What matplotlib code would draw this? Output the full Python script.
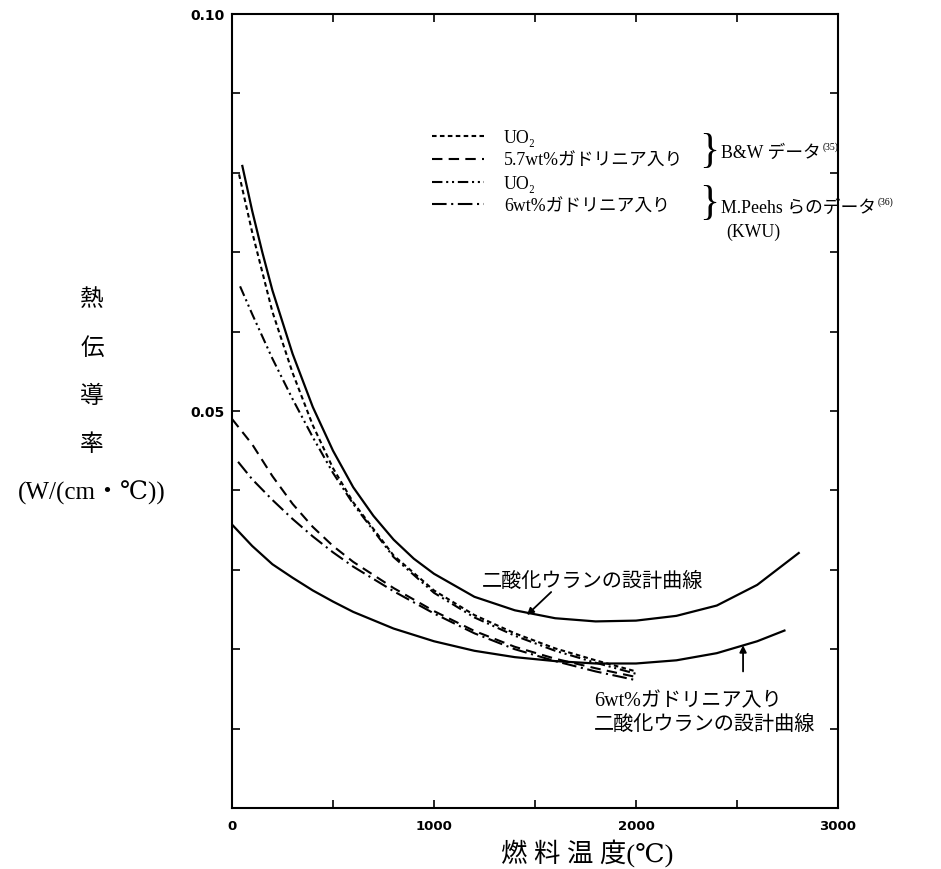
import matplotlib
matplotlib.use("Agg")
import matplotlib.pyplot as plt

# ---------------- data ----------------
temp_design_uo2 = [50, 100, 150, 200, 300, 400, 500, 600, 700, 800, 900, 1000,
                   1200, 1400, 1600, 1800, 2000, 2200, 2400, 2600, 2810]
k_design_uo2 = [0.0810, 0.0752, 0.0700, 0.0652, 0.0572, 0.0505, 0.0450, 0.0404,
                0.0368, 0.0338, 0.0314, 0.0295, 0.0266, 0.0249, 0.0239, 0.0235,
                0.0236, 0.0242, 0.0255, 0.0281, 0.0322]

temp_design_gd = [0, 100, 200, 300, 400, 500, 600, 800, 1000, 1200, 1400, 1600,
                  1800, 2000, 2200, 2400, 2600, 2740]
k_design_gd = [0.0357, 0.0330, 0.0307, 0.0290, 0.0274, 0.0260, 0.0247, 0.0226,
               0.0210, 0.0198, 0.0190, 0.0185, 0.0182, 0.0182, 0.0186, 0.0195,
               0.0210, 0.0224]

temp_bw_uo2 = [35, 100, 200, 300, 400, 500, 600, 800, 1000, 1200, 1400, 1600, 1800, 2000]
k_bw_uo2 = [0.0798, 0.0725, 0.0625, 0.0548, 0.0482, 0.0428, 0.0385, 0.0318,
            0.0274, 0.0243, 0.0220, 0.0201, 0.0186, 0.0172]

temp_bw_gd = [0, 100, 200, 300, 400, 500, 600, 800, 1000, 1200, 1400, 1600, 1800, 2000]
k_bw_gd = [0.0490, 0.0458, 0.0418, 0.0383, 0.0354, 0.0330, 0.0310, 0.0277,
           0.0248, 0.0223, 0.0203, 0.0188, 0.0176, 0.0165]

temp_kwu_uo2 = [40, 100, 200, 300, 400, 500, 600, 800, 1000, 1200, 1400, 1600, 1800, 2000]
k_kwu_uo2 = [0.0657, 0.0622, 0.0566, 0.0515, 0.0467, 0.0422, 0.0383, 0.0316,
             0.0271, 0.0240, 0.0217, 0.0198, 0.0183, 0.0169]

temp_kwu_gd = [30, 100, 200, 300, 400, 500, 600, 800, 1000, 1200, 1400, 1600, 1800, 2000]
k_kwu_gd = [0.0436, 0.0414, 0.0388, 0.0364, 0.0342, 0.0322, 0.0304, 0.0273,
            0.0245, 0.0220, 0.0200, 0.0185, 0.0172, 0.0161]

legend_labels = ["UO₂", "5.7wt%ガドリニア入り", "UO₂", "6wt%ガドリニア入り"]
x_ticks = [0, 1000, 2000, 3000]
x_tick_labels = ["0", "1000", "2000", "3000"]
y_tick_labels = {0.05: "0.05", 0.10: "0.10"}

# ---------------- figure ----------------
W, H = 941, 870
fig = plt.figure(figsize=(W / 100, H / 100), dpi=100)
fig.patch.set_facecolor("white")

def fx(px):
    return px / W

def fy(py):
    return 1 - py / H

L, R, T, B = 232, 838, 15, 809
ax = fig.add_axes([fx(L), fy(B), (R - L) / W, (B - T) / H])
ax.set_xlim(0, 3000)
ax.set_ylim(0, 0.10)

CJK = ["Liberation Serif", "DejaVu Serif", "Noto Sans CJK JP"]
CJK_SANS = ["Noto Sans CJK JP", "DejaVu Sans"]

lw = 1.6
ax.plot(temp_design_uo2, k_design_uo2, color="black", lw=lw, solid_capstyle="butt")
ax.plot(temp_design_gd, k_design_gd, color="black", lw=lw, solid_capstyle="butt")
l1, = ax.plot(temp_bw_uo2, k_bw_uo2, color="black", lw=1.5, linestyle=(0, (2.2, 1.6)))
l2, = ax.plot(temp_bw_gd, k_bw_gd, color="black", lw=1.5, linestyle=(0, (5, 3)))
l3, = ax.plot(temp_kwu_uo2, k_kwu_uo2, color="black", lw=1.5,
              linestyle=(0, (5, 1.8, 1, 1.8, 1, 1.8)))
l4, = ax.plot(temp_kwu_gd, k_kwu_gd, color="black", lw=1.5,
              linestyle=(0, (7, 2.2, 1, 2.2)))

# ticks
for s in ax.spines.values():
    s.set_linewidth(1.5)
ax.set_xticks(x_ticks)
ax.set_xticklabels(x_tick_labels, fontsize=9.5, fontweight="bold", family="DejaVu Sans")
ax.set_xticks([500, 1500, 2500], minor=True)
yt = [i / 100 for i in range(0, 11)]
ax.set_yticks(yt)
ax.set_yticklabels([y_tick_labels.get(round(v, 2), "") for v in yt],
                   fontsize=10, fontweight="bold", family="DejaVu Sans")
ax.tick_params(axis="both", which="both", direction="in", top=True, right=True,
               length=6, width=1.2)
ax.tick_params(axis="x", which="major", pad=8)
ax.tick_params(axis="y", which="major", pad=5)

# legend
leg = ax.legend([l1, l2, l3, l4], legend_labels, loc="upper left",
                bbox_to_anchor=(fx(432), fy(130)), bbox_transform=fig.transFigure,
                frameon=False, borderpad=0, borderaxespad=0,
                handlelength=2.95, handletextpad=1.1, labelspacing=0.33,
                prop={"family": CJK, "size": 12.8})

# braces and group labels
fig.text(fx(699), fy(152), "}", fontsize=30, family="Liberation Serif",
         ha="left", va="center")
t1 = fig.text(fx(721), fy(153), "B&W データ", fontsize=12.8, family=CJK,
              ha="left", va="center")
ax.annotate("(35)", xy=(1.0, 0.85), xycoords=t1, xytext=(1.5, 0),
            textcoords="offset points", fontsize=7, family=CJK,
            ha="left", va="center")
fig.text(fx(699), fy(204), "}", fontsize=30, family="Liberation Serif",
         ha="left", va="center")
t2 = fig.text(fx(721), fy(208), "M.Peehs らのデータ", fontsize=12.8, family=CJK,
              ha="left", va="center")
ax.annotate("(36)", xy=(1.0, 0.85), xycoords=t2, xytext=(1.5, 0),
            textcoords="offset points", fontsize=7, family=CJK,
            ha="left", va="center")
fig.text(fx(726), fy(232), "(KWU)", fontsize=12.8, family=CJK, ha="left", va="center")

# annotations
fig.text(fx(482), fy(581), "二酸化ウランの設計曲線", fontsize=14.5, family=CJK_SANS,
         ha="left", va="center")
ax.annotate("", xy=(1460, 0.0243), xycoords="data",
            xytext=(1580, 0.0272), textcoords="data",
            arrowprops=dict(arrowstyle="-|>", color="black", lw=1.3,
                            shrinkA=0, shrinkB=0, mutation_scale=10))
ax.annotate("", xy=(2530, 0.0205), xycoords="data",
            xytext=(2530, 0.0172), textcoords="data",
            arrowprops=dict(arrowstyle="-|>", color="black", lw=1.3,
                            shrinkA=0, shrinkB=0, mutation_scale=10))
fig.text(fx(594), fy(702), "6wt%ガドリニア入り", fontsize=14.5, family=CJK,
         ha="left", va="center")
fig.text(fx(594), fy(725), "二酸化ウランの設計曲線", fontsize=14.5, family=CJK,
         ha="left", va="center")

# axis labels
for ch, py in zip(["熱", "伝", "導", "率"], [300, 348, 397, 445]):
    fig.text(fx(92), fy(py), ch, fontsize=17, family=CJK_SANS, ha="center", va="center")
fig.text(fx(92), fy(493), "(W/(cm・℃))", fontsize=18, family=CJK, ha="center", va="center")
fig.text(fx(587), fy(853), "燃 料 温 度(℃)", fontsize=19, family=CJK, ha="center", va="center")

fig.savefig("out.png", dpi=100, facecolor="white")
